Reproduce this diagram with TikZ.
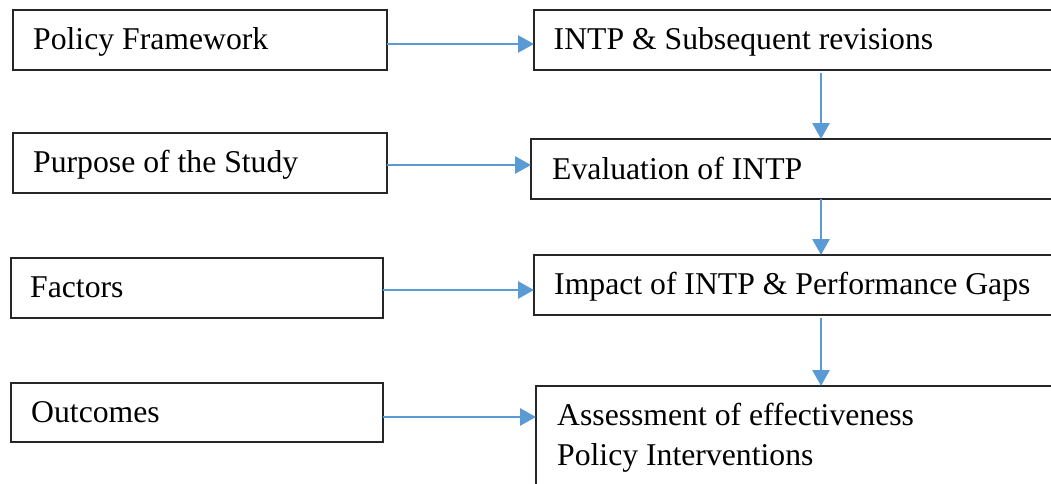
\documentclass[tikz,border=0pt]{standalone}
\usepackage{fontspec}
\setmainfont{Liberation Serif}
\usetikzlibrary{arrows.meta}
\definecolor{arrblue}{HTML}{5B9BD5}
\definecolor{boxline}{HTML}{262626}
\tikzset{
  box/.style={draw=boxline, line width=1.3pt, rectangle, inner sep=0pt, outer sep=0pt, anchor=north west},
  lbl/.style={anchor=base west, inner sep=0pt, font=\fontsize{31.7}{38}\selectfont},
  arr/.style={draw=arrblue, line width=2.8pt, -{Triangle[length=16pt,width=17pt]}}
}
\begin{document}
\begin{tikzpicture}[x=1pt,y=1pt]
\useasboundingbox (0,0) rectangle (1051,483);
\clip (0,0) rectangle (1051,483);
% left boxes
\node[box, minimum width=374pt, minimum height=60pt] (pf) at (13,473) {};
\node[box, minimum width=374pt, minimum height=60pt] (ps) at (13,350) {};
\node[box, minimum width=372pt, minimum height=60pt] (fa) at (11,225) {};
\node[box, minimum width=372pt, minimum height=59pt] (oc) at (11,100) {};
% right boxes
\node[box, minimum width=540pt, minimum height=60pt] (intp) at (534,473) {};
\node[box, minimum width=540pt, minimum height=60pt] (ev) at (531,344) {};
\node[box, minimum width=540pt, minimum height=60pt] (im) at (534,228) {};
\node[box, minimum width=540pt, minimum height=120pt] (as) at (536,97) {};
% texts
\node[lbl] (tpf) at (33,433) {Policy Framework};
\node[lbl] (tps) at (33,311) {Purpose of the Study};
\node[lbl] (tfa) at (30,186) {Factors};
\node[lbl] (toc) at (31,61) {Outcomes};
\node[lbl] (tintp) at (553.5,433) {INTP \& Subsequent revisions};
\node[lbl] (tev) at (552,304) {Evaluation of INTP};
\node[lbl] (tim) at (554,189) {Impact of INTP \& Performance Gaps};
\node[lbl] (tas1) at (557,58) {Assessment of effectiveness};
\node[lbl] (tas2) at (557,18) {Policy Interventions};
% connectors
\coordinate (vx) at (821,0);
\coordinate (h1) at (0,439);
\coordinate (h2) at (0,318);
\coordinate (h3) at (0,193);
\coordinate (h4) at (0,66);
\draw[arr] (pf.east |- h1) -- (intp.west |- h1);
\draw[arr] (ps.east |- h2) -- (ev.west |- h2);
\draw[arr] (fa.east |- h3) -- (im.west |- h3);
\draw[arr] (oc.east |- h4) -- (as.west |- h4);
\draw[arr] ([yshift=-3pt]intp.south -| vx) -- (ev.north -| vx);
\draw[arr] (ev.south -| vx) -- (im.north -| vx);
\draw[arr] ([yshift=-3pt]im.south -| vx) -- (as.north -| vx);
\end{tikzpicture}
\end{document}
